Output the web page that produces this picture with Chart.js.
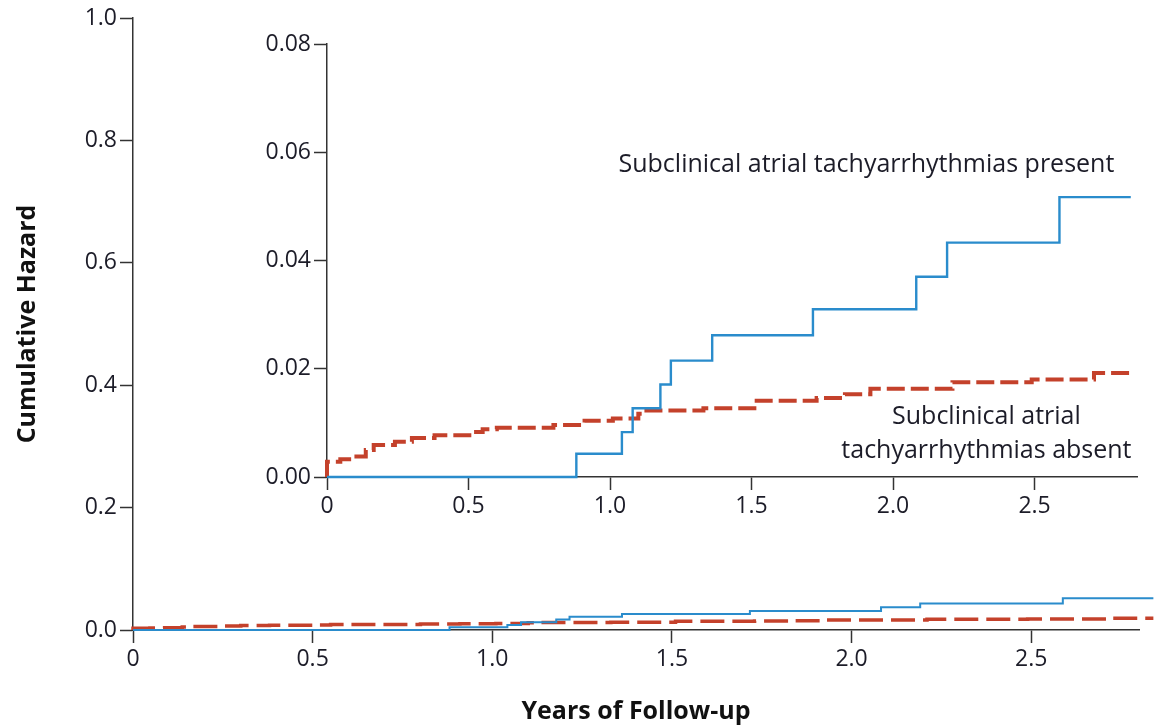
<!DOCTYPE html>
<html>
<head>
<meta charset="utf-8">
<script src="https://cdn.jsdelivr.net/npm/chart.js@4.4.0/dist/chart.umd.min.js"></script>
<style>
  html, body { margin: 0; padding: 0; background: #fff; }
  #wrap { position: relative; width: 1159px; height: 728px; }
  #mainChart { position: absolute; left: 0; top: 0; }
  #insetChart { position: absolute; left: 240px; top: 20px; }
</style>
</head>
<body>
<div id="wrap">
  <canvas id="mainChart" width="1159" height="728"></canvas>
  <canvas id="insetChart" width="919" height="510"></canvas>
</div>
<script>
// years of follow-up at each step, and cumulative hazard after the step
const presentYears = [0, 0.881, 1.042, 1.080, 1.178, 1.215, 1.361, 1.717, 2.082, 2.191, 2.588, 2.84];
const presentHazard = [0, 0.0043, 0.0083, 0.0127, 0.0171, 0.0215, 0.0262, 0.0310, 0.0370, 0.0433, 0.0517, 0.0517];

const absentYears = [0, 0, 0.047, 0.088, 0.137, 0.165, 0.24, 0.30, 0.38, 0.51, 0.55, 0.60, 0.80, 0.91,
  1.01, 1.10, 1.12, 1.33, 1.51, 1.73, 1.83, 1.92, 2.21, 2.49, 2.71, 2.84];
const absentHazard = [0, 0.0028, 0.0033, 0.0038, 0.0050, 0.0059, 0.0065, 0.0072, 0.0077, 0.0083, 0.0088, 0.0091, 0.0096, 0.0104,
  0.0108, 0.0117, 0.0123, 0.0127, 0.0141, 0.0146, 0.0153, 0.0163, 0.0175, 0.0180, 0.0192, 0.0192];

const xTicks = [0, 0.5, 1.0, 1.5, 2.0, 2.5];
const xTickLabels = ['0', '0.5', '1.0', '1.5', '2.0', '2.5'];
const mainYTicks = [0, 0.2, 0.4, 0.6, 0.8, 1.0];
const mainYTickLabels = ['0.0', '0.2', '0.4', '0.6', '0.8', '1.0'];
const insetYTicks = [0, 0.02, 0.04, 0.06, 0.08];
const insetYTickLabels = ['0.00', '0.02', '0.04', '0.06', '0.08'];

const presentLabel = ['Subclinical atrial tachyarrhythmias present'];
const absentLabel = ['Subclinical atrial', 'tachyarrhythmias absent'];

const BLUE = '#2a8ccc';
const RED = '#c4412b';
const INK = '#1c1c28';
const FONT = '"Open Sans", sans-serif';

const toPoints = (xs, ys) => xs.map((x, i) => ({ x: x, y: ys[i] }));

function makeAxis(values, labels, min, max, extra) {
  return Object.assign({
    type: 'linear',
    min: min,
    max: max,
    afterBuildTicks: s => { s.ticks = values.map(v => ({ value: v })); },
    ticks: {
      autoSkip: false,
      maxRotation: 0,
      color: INK,
      font: { family: FONT, size: 23 },
      padding: 3,
      callback: (v, i) => labels[i]
    },
    grid: { drawOnChartArea: false, color: '#333', tickLength: 13, tickWidth: 1.5 },
    border: { color: '#333', width: 1.5 }
  }, extra);
}

function lineSets(redWidth, blueWidth, dash) {
  return [
    {
      label: 'present',
      data: toPoints(presentYears, presentHazard),
      borderColor: BLUE,
      borderWidth: blueWidth,
      stepped: 'before',
      pointRadius: 0,
      fill: false,
      clip: false
    },
    {
      label: 'absent',
      data: toPoints(absentYears, absentHazard),
      borderColor: RED,
      borderWidth: redWidth,
      borderDash: dash,
      stepped: 'before',
      pointRadius: 0,
      fill: false,
      clip: false
    }
  ];
}

// main chart, full scale
new Chart(document.getElementById('mainChart'), {
  type: 'line',
  data: { datasets: lineSets(3.5, 2, [24, 8]) },
  options: {
    responsive: false,
    animation: false,
    layout: { padding: { top: 18, right: 20, left: 0, bottom: 0 } },
    plugins: { legend: { display: false }, tooltip: { enabled: false } },
    scales: {
      x: makeAxis(xTicks, xTickLabels, 0, 2.8, {
        afterFit: s => { s.height = 98; },
        title: {
          display: true,
          text: 'Years of Follow-up',
          color: '#111',
          font: { family: FONT, size: 25, weight: 'bold' },
          padding: { top: 0, bottom: 1 }
        }
      }),
      y: makeAxis(mainYTicks, mainYTickLabels, 0, 1.0, {
        afterFit: s => { s.width = 133; },
        title: {
          display: true,
          text: 'Cumulative Hazard',
          color: '#111',
          font: { family: FONT, size: 25, weight: 'bold' },
          padding: { top: 13, bottom: 0 }
        }
      })
    }
  }
});

// series labels inside the inset, anchored in data units
const labelPlugin = {
  id: 'seriesLabels',
  afterDatasetsDraw(chart) {
    const { ctx, scales: { x, y } } = chart;
    ctx.save();
    ctx.font = '25px ' + FONT;
    ctx.fillStyle = INK;
    ctx.textAlign = 'center';
    ctx.textBaseline = 'middle';
    ctx.fillText(presentLabel[0], x.getPixelForValue(1.906), y.getPixelForValue(0.0576));
    ctx.fillText(absentLabel[0], x.getPixelForValue(2.33), y.getPixelForValue(0.01105));
    ctx.fillText(absentLabel[1], x.getPixelForValue(2.33), y.getPixelForValue(0.0049));
    ctx.restore();
  }
};

// inset, zoomed y axis
new Chart(document.getElementById('insetChart'), {
  type: 'line',
  data: { datasets: lineSets(4, 2.4, [18, 6]) },
  options: {
    responsive: false,
    animation: false,
    layout: { padding: { top: 24, right: 22, left: 0, bottom: 0 } },
    plugins: { legend: { display: false }, tooltip: { enabled: false } },
    scales: {
      x: makeAxis(xTicks, xTickLabels, 0, 2.862, {
        afterFit: s => { s.height = 53; }
      }),
      y: makeAxis(insetYTicks, insetYTickLabels, 0, 0.08, {
        afterFit: s => { s.width = 87; }
      })
    }
  },
  plugins: [labelPlugin]
});
</script>
</body>
</html>
